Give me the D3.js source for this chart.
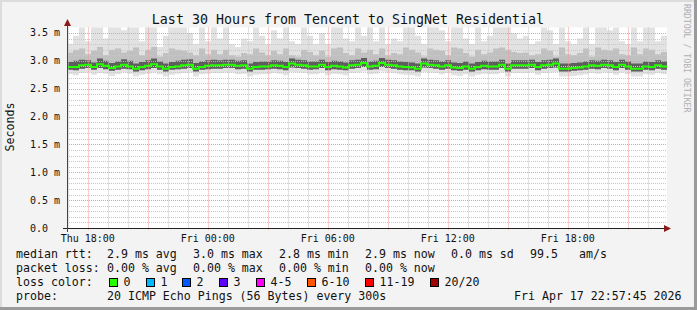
<!DOCTYPE html>
<html><head><meta charset="utf-8">
<script src="https://cdn.jsdelivr.net/npm/d3@7/dist/d3.min.js"></script>
<style>
html,body{margin:0;padding:0;background:#f3f3f3;}
svg{display:block;}
text{font-family:"DejaVu Sans Mono",monospace;white-space:pre;}
</style></head>
<body><svg id="c" width="697" height="310"></svg>
<script>
// ---- data (ms) : one column every 18 minutes over 30 hours ----
const titleText = "Last 30 Hours from Tencent to SingNet Residential";
const yTickValues = [0, 0.5, 1.0, 1.5, 2.0, 2.5, 3.0, 3.5];
const yTickLabels = ["0.0", "0.5 m", "1.0 m", "1.5 m", "2.0 m", "2.5 m", "3.0 m", "3.5 m"];
const medianRtt = [
 2.89,2.89,2.92,2.93,2.89,2.94,2.91,2.87,2.90,2.93,2.90,2.86,2.89,2.91,2.94,2.90,2.86,2.89,2.90,2.92,2.93,2.86,2.89,2.91,2.92,
 2.92,2.93,2.93,2.91,2.92,2.86,2.89,2.90,2.90,2.92,2.91,2.89,2.95,2.93,2.92,2.90,2.90,2.93,2.89,2.91,2.90,2.88,2.92,2.93,2.96,
 2.90,2.91,2.96,2.93,2.92,2.90,2.89,2.88,2.86,2.95,2.93,2.92,2.90,2.92,2.88,2.87,2.90,2.86,2.89,2.91,2.90,2.90,2.93,2.86,2.92,
 2.92,2.92,2.93,2.89,2.92,2.93,2.95,2.86,2.86,2.87,2.88,2.90,2.92,2.91,2.93,2.92,2.89,2.93,2.90,2.86,2.86,2.90,2.89,2.92,2.90];
const pingMax = [
 3.30,3.45,3.60,3.35,3.60,3.60,3.40,3.60,3.60,3.55,3.60,3.60,3.35,3.60,3.60,3.25,3.45,3.60,3.60,3.60,3.50,3.30,3.60,3.35,3.60,
 3.40,3.60,3.30,3.25,3.40,3.35,3.60,3.45,3.30,3.55,3.40,3.60,3.35,3.30,3.60,3.45,3.30,3.50,3.30,3.60,3.60,3.40,3.35,3.60,3.45,
 3.60,3.35,3.60,3.30,3.40,3.35,3.60,3.60,3.45,3.30,3.60,3.60,3.55,3.35,3.60,3.60,3.40,3.30,3.60,3.35,3.45,3.60,3.60,3.60,3.50,
 3.40,3.45,3.30,3.35,3.60,3.55,3.30,3.60,3.35,3.30,3.40,3.60,3.30,3.60,3.60,3.55,3.60,3.35,3.30,3.60,3.35,3.60,3.60,3.35,3.45];
const pingHigh = [
 3.15,3.20,3.22,3.12,3.18,3.25,3.10,3.20,3.22,3.15,3.18,3.24,3.10,3.20,3.25,3.08,3.14,3.22,3.20,3.18,3.15,3.10,3.22,3.12,3.20,
 3.12,3.20,3.10,3.08,3.14,3.12,3.22,3.15,3.10,3.18,3.12,3.22,3.10,3.08,3.20,3.16,3.10,3.18,3.08,3.22,3.24,3.14,3.10,3.22,3.15,
 3.20,3.12,3.22,3.10,3.14,3.12,3.24,3.20,3.15,3.08,3.22,3.20,3.18,3.10,3.24,3.22,3.14,3.08,3.20,3.12,3.15,3.22,3.24,3.20,3.16,
 3.14,3.15,3.10,3.12,3.22,3.18,3.08,3.24,3.12,3.10,3.14,3.22,3.08,3.24,3.20,3.18,3.22,3.12,3.10,3.24,3.12,3.22,3.20,3.12,3.16];
const pingUpperQ = [
 2.98,3.00,3.02,3.01,2.97,3.04,3.00,2.96,2.99,3.03,3.00,2.95,2.98,3.01,3.04,2.99,2.95,2.98,3.00,3.02,3.03,2.96,2.99,3.01,3.02,
 3.01,3.02,3.02,3.00,3.01,2.95,2.98,2.99,2.99,3.01,3.00,2.98,3.04,3.02,3.01,2.99,2.99,3.02,2.98,3.00,2.99,2.97,3.01,3.02,3.05,
 2.99,3.00,3.05,3.02,3.01,2.99,2.98,2.97,2.95,3.04,3.02,3.01,2.99,3.01,2.97,2.96,2.99,2.95,2.98,3.00,2.99,2.99,3.02,2.95,3.01,
 3.01,3.01,3.02,2.98,3.01,3.02,3.04,2.95,2.95,2.96,2.97,2.99,3.01,3.00,3.02,3.01,2.98,3.02,2.99,2.95,2.95,2.99,2.98,3.01,2.99];
const pingLowerQ = [
 2.84,2.83,2.86,2.87,2.84,2.87,2.85,2.82,2.84,2.86,2.85,2.81,2.83,2.85,2.87,2.84,2.81,2.84,2.85,2.86,2.87,2.81,2.84,2.85,2.86,
 2.86,2.87,2.87,2.85,2.86,2.81,2.84,2.84,2.85,2.86,2.85,2.83,2.88,2.87,2.86,2.84,2.85,2.87,2.83,2.85,2.84,2.83,2.86,2.87,2.89,
 2.84,2.85,2.89,2.87,2.86,2.84,2.83,2.83,2.81,2.88,2.87,2.86,2.84,2.86,2.83,2.82,2.84,2.81,2.83,2.85,2.84,2.84,2.87,2.81,2.86,
 2.86,2.86,2.87,2.83,2.86,2.87,2.88,2.81,2.81,2.82,2.83,2.84,2.86,2.85,2.87,2.86,2.83,2.87,2.84,2.81,2.81,2.84,2.83,2.86,2.84];
const pingMin = [
 2.76,2.74,2.78,2.79,2.75,2.78,2.77,2.73,2.76,2.79,2.77,2.72,2.75,2.77,2.79,2.76,2.72,2.75,2.77,2.78,2.79,2.72,2.76,2.77,2.78,
 2.78,2.79,2.79,2.76,2.77,2.72,2.75,2.76,2.76,2.78,2.77,2.74,2.80,2.79,2.78,2.76,2.76,2.79,2.74,2.77,2.76,2.74,2.78,2.79,2.81,
 2.76,2.77,2.81,2.79,2.78,2.76,2.75,2.74,2.72,2.80,2.79,2.78,2.76,2.78,2.74,2.73,2.76,2.72,2.75,2.77,2.76,2.76,2.79,2.72,2.78,
 2.78,2.78,2.79,2.75,2.78,2.79,2.80,2.72,2.72,2.73,2.74,2.76,2.78,2.77,2.79,2.78,2.75,2.79,2.76,2.72,2.72,2.76,2.75,2.78,2.76];
const lossLabels = ["0", "1", "2", "3", "4-5", "6-10", "11-19", "20/20"];
const lossColors = ["#26ff00", "#00b8ff", "#0059ff", "#5e00ff", "#ff00ff", "#ff5500", "#ff0000", "#a10000"];
const legendRows = [
  [["median rtt:", 16], ["2.9 ms avg", 107], ["3.0 ms max", 193], ["2.8 ms min", 279], ["2.9 ms now", 365], ["0.0 ms sd", 451], ["99.5", 530], ["am/s", 579]],
  [["packet loss:", 16], ["0.00 % avg", 107], ["0.00 % max", 193], ["0.00 % min", 279], ["0.00 % now", 365]],
  [["loss color:", 16]],
  [["probe:", 16], ["20 ICMP Echo Pings (56 Bytes) every 300s", 107], ["Fri Apr 17 22:57:45 2026", 514]]
];
const startTime = new Date(2026, 3, 16, 16, 57, 45);
const endTime = new Date(2026, 3, 17, 22, 57, 45);
const stepMinutes = 18;

// ---- drawing ----
const svg = d3.select("#c");
const W = 697, H = 310;
const L = 67, R = 667, T = 27.4, B = 228;

svg.append("rect").attr("width", W).attr("height", H).attr("fill", "#f3f3f3");
svg.append("rect").attr("x", 0).attr("y", 0).attr("width", W).attr("height", 2).attr("fill", "#dcdcdc");
svg.append("rect").attr("x", 0).attr("y", 0).attr("width", 2).attr("height", H).attr("fill", "#dcdcdc");
svg.append("rect").attr("x", 0).attr("y", H - 3).attr("width", W).attr("height", 3).attr("fill", "#9a9a9a");
svg.append("rect").attr("x", W - 3).attr("y", 0).attr("width", 3).attr("height", H).attr("fill", "#9a9a9a");

const x = d3.scaleTime().domain([startTime, endTime]).range([L, R]);
const y = d3.scaleLinear().domain([0, 3.6]).range([B, T]);

svg.append("rect").attr("x", L).attr("y", T).attr("width", R - L).attr("height", B - T).attr("fill", "#ffffff");

const cols = medianRtt.map((m, i) => ({
  t: d3.timeMinute.offset(startTime, i * stepMinutes),
  med: m, max: pingMax[i], hi: pingHigh[i], uq: pingUpperQ[i], lq: pingLowerQ[i], min: pingMin[i]
}));
cols.push(Object.assign({}, cols[cols.length - 1], {t: endTime}));

const plot = svg.append("g");
const band = (lo, hi, color) => plot.append("path").datum(cols)
  .attr("fill", color)
  .attr("d", d3.area().curve(d3.curveStepAfter).x(d => x(d.t)).y0(d => y(d[lo])).y1(d => y(d[hi])));
band("min", "max", "#e2e2e2");
band("lq", "hi", "#c0c0c0");
band("lq", "uq", "#5e5e5e");

// grid
const grid = svg.append("g");
const minorY = d3.range(1, 36).map(v => v / 10).filter(v => Math.round(v * 10) % 5 !== 0);
grid.selectAll(".gy").data(minorY).join("line")
  .attr("x1", L).attr("x2", R).attr("y1", d => Math.round(y(d)) + 0.5).attr("y2", d => Math.round(y(d)) + 0.5)
  .attr("stroke", "#c8c8c8").attr("stroke-dasharray", "1,1");
const hours = d3.timeHour.range(startTime, endTime);
grid.selectAll(".gx").data(hours.filter(h => h.getHours() % 3 !== 0)).join("line")
  .attr("y1", T).attr("y2", B).attr("x1", d => Math.round(x(d)) + 0.5).attr("x2", d => Math.round(x(d)) + 0.5)
  .attr("stroke", "#c8c8c8").attr("stroke-dasharray", "1,1");
grid.selectAll(".gym").data(yTickValues.slice(1)).join("line")
  .attr("x1", L).attr("x2", R).attr("y1", d => Math.round(y(d)) + 0.5).attr("y2", d => Math.round(y(d)) + 0.5)
  .attr("stroke", "#f29a9a").attr("stroke-dasharray", "1,1");
grid.selectAll(".gxm").data(hours.filter(h => h.getHours() % 3 === 0)).join("line")
  .attr("y1", T).attr("y2", B + 2).attr("x1", d => Math.round(x(d)) + 0.5).attr("x2", d => Math.round(x(d)) + 0.5)
  .attr("stroke", "#f29a9a").attr("stroke-dasharray", "1,1");

// median line
svg.append("path").datum(cols)
  .attr("fill", "none").attr("stroke", "#26ff00").attr("stroke-width", 2)
  .attr("d", d3.line().curve(d3.curveStepAfter).x(d => x(d.t)).y(d => y(d.med)));

// axes
svg.append("line").attr("x1", 63).attr("x2", 668).attr("y1", B + 0.5).attr("y2", B + 0.5).attr("stroke", "#222");
svg.append("line").attr("x1", L + 0.5).attr("x2", L + 0.5).attr("y1", B + 4).attr("y2", 22).attr("stroke", "#444");
svg.append("path").attr("d", `M664,${B - 3}L671,${B + 0.5}L664,${B + 4}Z`).attr("fill", "#8b1a1a");
svg.append("path").attr("d", `M${L - 3},26L${L + 0.5},19L${L + 4},26Z`).attr("fill", "#8b1a1a");

// y tick labels
svg.selectAll(".yl").data(yTickValues).join("text")
  .attr("x", 30).attr("y", d => y(d) + 3.5)
  .attr("font-size", "10px").attr("fill", "#111")
  .text((d, i) => yTickLabels[i]);

// x tick labels
const xTicks = d3.timeHour.every(6).range(startTime, endTime);
const fmt = d3.timeFormat("%a %H:%M");
svg.selectAll(".xl").data(xTicks).join("text")
  .attr("x", d => x(d)).attr("y", 241.5).attr("text-anchor", "middle")
  .attr("font-size", "10px").attr("fill", "#111")
  .text(d => fmt(d));

// title
svg.append("text").attr("x", 348).attr("y", 23.5).attr("text-anchor", "middle")
  .attr("font-size", "13.3px").attr("fill", "#111").text(titleText);

// y axis title
svg.append("text").attr("transform", "translate(14,127) rotate(-90)").attr("text-anchor", "middle")
  .attr("font-size", "11.6px").attr("fill", "#111").text("Seconds");

// rrdtool watermark
svg.append("text").attr("transform", "translate(684,4) rotate(90)")
  .attr("font-size", "8.2px").attr("fill", "#b0b0b0").text("RRDTOOL / TOBI OETIKER");

// legend
const rowY = [258, 272, 286, 300];
legendRows.forEach((row, r) => {
  row.forEach(([t, px]) => {
    svg.append("text").attr("x", px).attr("y", rowY[r]).attr("font-size", "11.6px").attr("fill", "#111").text(t);
  });
});
const boxX = [109, 146, 182, 219, 256, 307, 365, 430];
lossLabels.forEach((lab, i) => {
  svg.append("rect").attr("x", boxX[i] + 0.5).attr("y", 278.5).attr("width", 8).attr("height", 8)
    .attr("fill", lossColors[i]).attr("stroke", "#000");
  svg.append("text").attr("x", boxX[i] + 14.5).attr("y", rowY[2]).attr("font-size", "11.6px").attr("fill", "#111").text(lab);
});
</script></body></html>
